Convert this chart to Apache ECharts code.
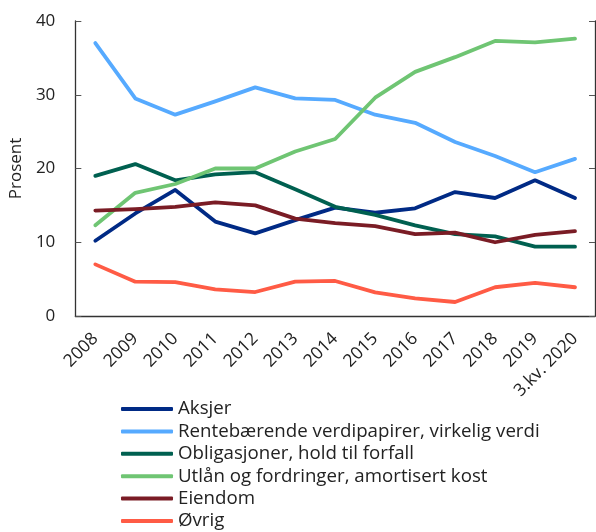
<!DOCTYPE html>
<html>
<head>
<meta charset="utf-8">
<script src="https://cdn.jsdelivr.net/npm/echarts@6/dist/echarts.min.js"></script>
<style>
  html, body { margin: 0; padding: 0; background: #fff; }
  #chart { width: 596px; height: 532px; }
</style>
</head>
<body>
<div id="chart"></div>
<script>
  const years = ['2008', '2009', '2010', '2011', '2012', '2013', '2014', '2015', '2016', '2017', '2018', '2019', '3.kv. 2020'];

  const aksjer = [10.2, 13.9, 17.1, 12.8, 11.2, 13.0, 14.7, 14.0, 14.6, 16.8, 16.0, 18.4, 16.0];
  const rentebaerende = [37.0, 29.5, 27.3, 29.1, 31.0, 29.5, 29.3, 27.3, 26.2, 23.6, 21.7, 19.5, 21.3];
  const obligasjoner = [19.0, 20.6, 18.4, 19.2, 19.5, 17.2, 14.8, 13.7, 12.3, 11.1, 10.8, 9.4, 9.4];
  const utlan = [12.3, 16.7, 17.9, 20.0, 20.0, 22.3, 24.0, 29.6, 33.1, 35.1, 37.3, 37.1, 37.6];
  const eiendom = [14.3, 14.5, 14.8, 15.4, 15.0, 13.2, 12.6, 12.2, 11.1, 11.3, 10.0, 11.0, 11.5];
  const ovrig = [7.0, 4.65, 4.6, 3.6, 3.25, 4.65, 4.75, 3.2, 2.4, 1.9, 3.9, 4.5, 3.9];

  const names = [
    'Aksjer',
    'Rentebærende verdipapirer, virkelig verdi',
    'Obligasjoner, hold til forfall',
    'Utlån og fordringer, amortisert kost',
    'Eiendom',
    'Øvrig'
  ];
  const values = [aksjer, rentebaerende, obligasjoner, utlan, eiendom, ovrig];
  const colors = ['#002a85', '#56aaff', '#006050', '#6fc573', '#7a1c25', '#ff5b45'];

  const font = 'Open Sans';
  const textColor = '#222';

  const myChart = echarts.init(document.getElementById('chart'));

  // venstre og høyre y-akse deler samme skala
  const yBase = {
    type: 'value',
    min: 0,
    max: 40,
    interval: 10,
    splitLine: { show: false },
    axisLine: { show: true, lineStyle: { color: '#333', width: 1.3 } },
    axisTick: { show: true, inside: true, length: 6, lineStyle: { color: '#555' } }
  };

  const option = {
    animation: false,
    color: colors,
    grid: { left: 73, right: 1, top: 21, bottom: 216 },
    legend: {
      data: names,
      orient: 'vertical',
      left: 116,
      top: 394,
      height: 140,
      icon: 'roundRect',
      itemWidth: 52,
      itemHeight: 4,
      itemGap: 2.4,
      selectedMode: false,
      textStyle: { fontFamily: font, fontSize: 18.7, lineHeight: 20, color: textColor, padding: [0, 0, 0, 0] }
    },
    xAxis: {
      type: 'category',
      data: years,
      boundaryGap: true,
      axisLine: { lineStyle: { color: '#333', width: 1.3 } },
      axisTick: { inside: true, length: 6, lineStyle: { color: '#555' } },
      axisLabel: {
        rotate: 45,
        interval: 0,
        margin: 20,
        fontFamily: font,
        fontSize: 17.5,
        color: textColor
      }
    },
    yAxis: [
      Object.assign({}, yBase, {
        position: 'left',
        name: 'Prosent',
        nameLocation: 'middle',
        nameGap: 46,
        nameTextStyle: { fontFamily: font, fontSize: 17, color: textColor },
        axisLabel: { margin: 20, fontFamily: font, fontSize: 17, color: textColor }
      }),
      Object.assign({}, yBase, {
        position: 'right',
        axisLabel: { show: false }
      })
    ],
    series: names.map((n, i) => ({
      name: n,
      type: 'line',
      yAxisIndex: 0,
      data: values[i],
      symbol: 'none',
      lineStyle: { width: 3.8, color: colors[i], cap: 'round', join: 'round' },
      itemStyle: { color: colors[i] }
    }))
  };

  myChart.setOption(option);
</script>
</body>
</html>
